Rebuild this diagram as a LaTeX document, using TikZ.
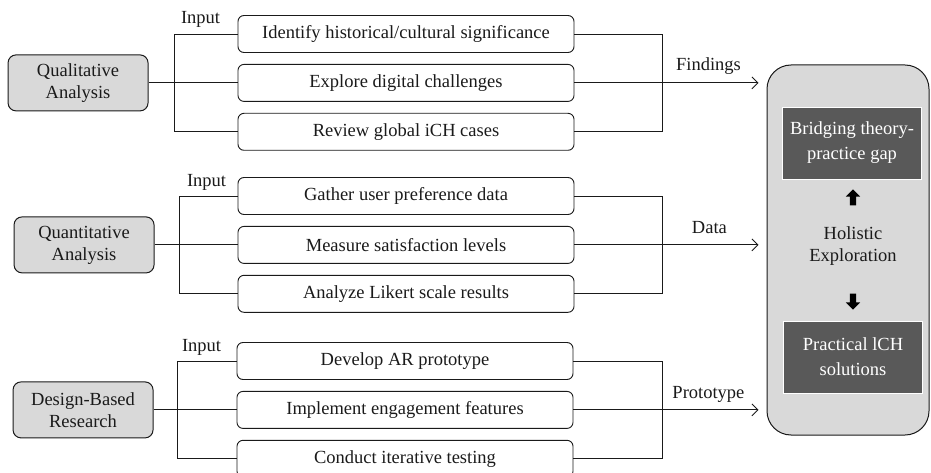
\documentclass[tikz,border=0pt]{standalone}
\usepackage{fontspec}
\setmainfont{Liberation Serif}
\usetikzlibrary{arrows.meta,calc,positioning,shapes.arrows}
\definecolor{Ink}{HTML}{1A1A1A}
\definecolor{BoxGray}{HTML}{D9D9D9}
\definecolor{DarkGray}{HTML}{595959}

\begin{document}
\begin{tikzpicture}[
    x=1pt, y=-1pt,
    every node/.style={font=\fontsize{18.5}{22}\selectfont, text=Ink},
    method/.style={
      draw=Ink,
      fill=BoxGray,
      rounded corners=8pt,
      line width=1pt,
      minimum width=140pt,
      minimum height=56pt,
      inner sep=0pt,
      align=center
    },
    task/.style={
      draw=Ink,
      rounded corners=6pt,
      line width=0.9pt,
      minimum width=336pt,
      minimum height=37pt,
      inner sep=0pt
    },
    outcome/.style={
      fill=DarkGray,
      draw=white,
      line width=0.6pt,
      minimum width=139pt,
      minimum height=72pt,
      inner sep=0pt,
      align=center,
      font=\fontsize{18.5}{25}\selectfont,
      text=white
    },
    link/.style={draw=Ink, line width=0.9pt},
    feed/.style={link, shorten >=8pt, -{Straight Barb[length=6pt, width=12pt, line width=0.9pt]}},
    blockarrow/.style={
      single arrow,
      fill=black,
      inner sep=3pt,
      minimum height=16pt,
      single arrow head extend=4pt
    },
    node distance=11pt
  ]
  \useasboundingbox (0,0) rectangle (931,473);

  % qualitative
  \node[task] (ident) at (406,34) {Identify historical/cultural significance};
  \node[task, below=of ident] (explore) {Explore digital challenges};
  \node[task, below=of explore] (review) {Review global iCH cases};
  \node[method, left=89pt of explore] (qual) {Qualitative\\Analysis};

  % quantitative
  \node[task] (gather) at (406,196) {Gather user preference data};
  \node[task, below=of gather] (measure) {Measure satisfaction levels};
  \node[task, below=of measure] (analyze) {Analyze Likert scale results};
  \node[method, left=83pt of measure] (quant) {Quantitative\\Analysis};

  % design-based
  \node[task] (develop) at (405,361) {Develop AR prototype};
  \node[task, below=of develop] (implement) {Implement engagement features};
  \node[task, below=of implement] (conduct) {Conduct iterative testing};
  \node[method, left=83pt of implement] (dbr) {Design-Based\\Research};

  % outcome panel
  \node[draw=Ink, fill=BoxGray, line width=1pt, rounded corners=24pt,
        minimum width=162pt, minimum height=370pt] (whole) at (848,250) {};
  \node[outcome] (bridge) at (852,143) {Bridging theory-\\practice gap};
  \node[outcome] (practical) at (853,357) {Practical lCH\\solutions};
  \node[align=center] (holistic) at (853,246) {Holistic\\Exploration};
  \node[blockarrow, shape border rotate=90] (uparr) at (853,199) {};
  \node[blockarrow, shape border rotate=270] (downarr) at (853,300) {};

  % brackets in
  \draw[link] (qual.east) -- (explore.west);
  \draw[link] (ident.west) -- ++(-63,0) |- (review.west);
  \draw[link] (quant.east) -- (measure.west);
  \draw[link] (gather.west) -- ++(-58,0) |- (analyze.west);
  \draw[link] (dbr.east) -- (implement.west);
  \draw[link] (develop.west) -- ++(-59,0) |- (conduct.west);

  \node[anchor=base] (inqual) at ([xshift=-37pt, yshift=10pt]ident.west) {Input};
  \node[anchor=base] (inquant) at ([xshift=-31pt, yshift=10pt]gather.west) {Input};
  \node[anchor=base] (indbr) at ([xshift=-35pt, yshift=10pt]develop.west) {Input};

  % brackets out
  \draw[link] (ident.east) -- ++(88,0) |- (review.east);
  \draw[link] (gather.east) -- ++(88,0) |- (analyze.east);
  \draw[link] (develop.east) -- ++(89,0) |- (conduct.east);

  \draw[feed] (explore.east) -- (explore.east -| whole.west);
  \draw[feed] (measure.east) -- (measure.east -| whole.west);
  \draw[feed] (implement.east) -- (implement.east -| whole.west);

  \node[anchor=base] (findlbl) at ([xshift=134pt, yshift=12pt]explore.east) {Findings};
  \node[anchor=base] (datalbl) at ([xshift=135pt, yshift=11pt]measure.east) {Data};
  \node[anchor=base] (protolbl) at ([xshift=135pt, yshift=11pt]implement.east) {Prototype};
\end{tikzpicture}
\end{document}
